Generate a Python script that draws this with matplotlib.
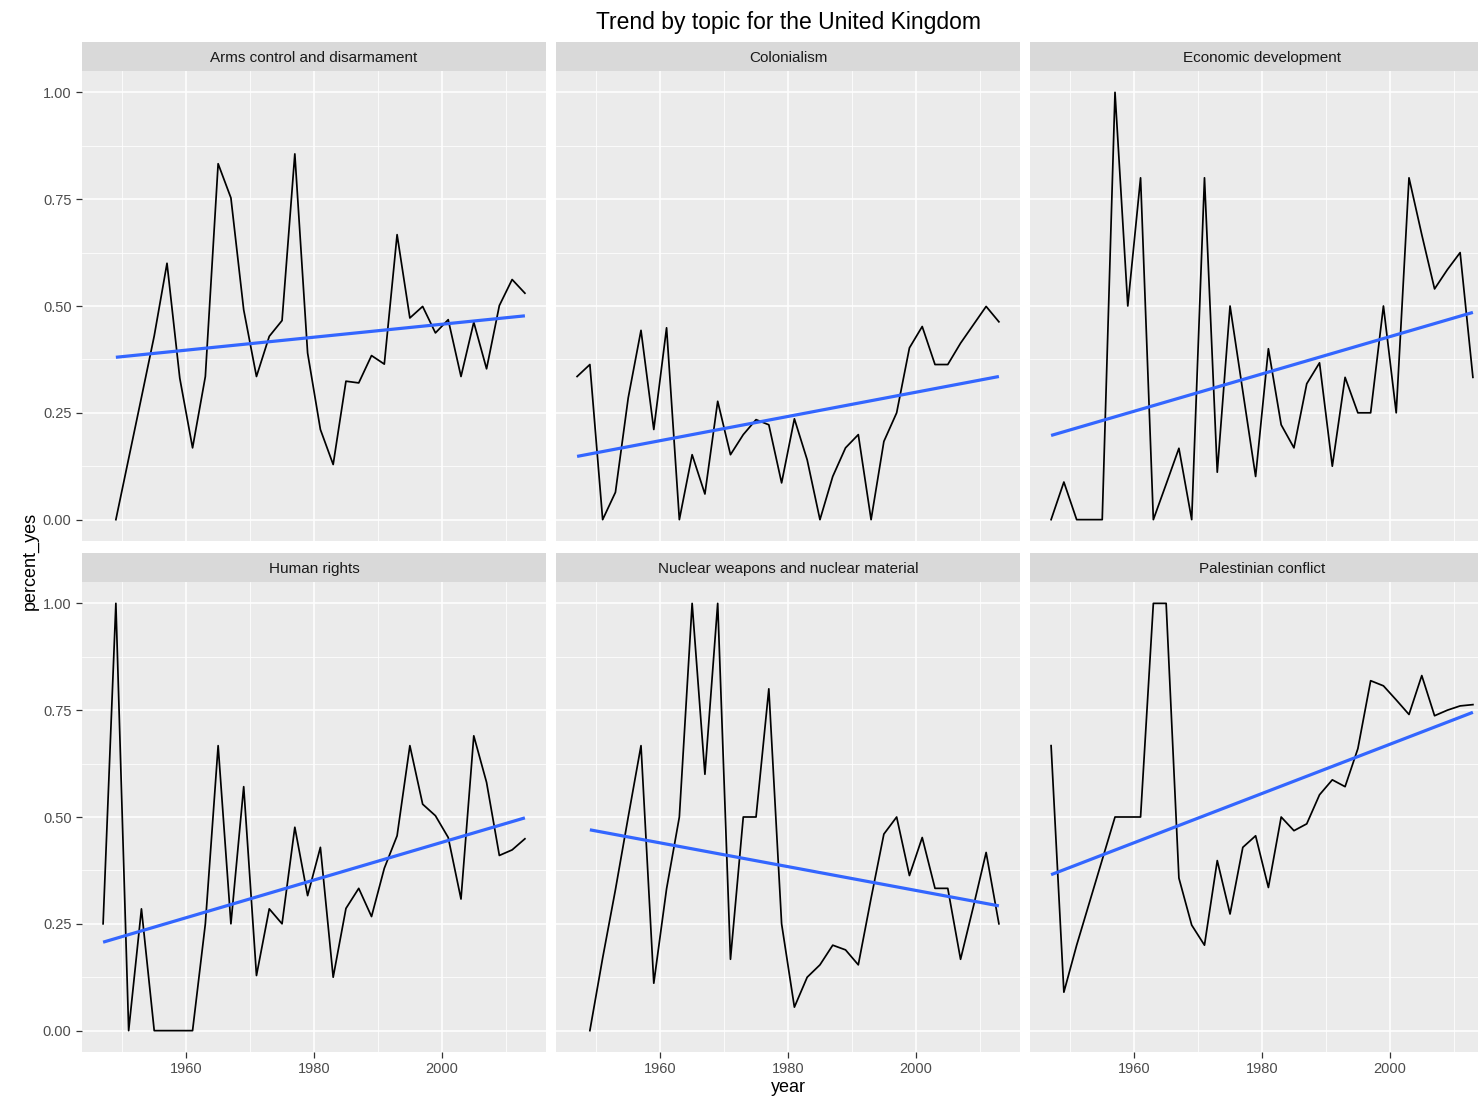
import numpy as np
import matplotlib
matplotlib.use("Agg")
import matplotlib.pyplot as plt
from matplotlib.ticker import FixedLocator

plt.rcParams['font.family'] = ['Liberation Sans', 'DejaVu Sans']

# ---------------- data ----------------
topics = ["Arms control and disarmament", "Colonialism", "Economic development",
          "Human rights", "Nuclear weapons and nuclear material", "Palestinian conflict"]

years_1947 = list(range(1947, 2014, 2))
years_1949 = list(range(1949, 2014, 2))

arms = [0.0, 0.143, 0.286, 0.43, 0.60, 0.331, 0.168, 0.335, 0.833, 0.753,
        0.491, 0.335, 0.429, 0.466, 0.856, 0.39, 0.211, 0.129, 0.324, 0.320,
        0.384, 0.364, 0.667, 0.472, 0.499, 0.437, 0.468, 0.335, 0.462, 0.353,
        0.501, 0.562, 0.530]
colonialism = [0.335, 0.363, 0.0, 0.064, 0.285, 0.443, 0.211, 0.449, 0.0, 0.152,
               0.06, 0.277, 0.152, 0.199, 0.234, 0.222, 0.086, 0.236,
               0.140, 0.0, 0.101, 0.168, 0.199, 0.0, 0.183, 0.25, 0.402, 0.452,
               0.363, 0.363, 0.413, 0.456, 0.499, 0.463]
economic = [0.0, 0.088, 0.0, 0.0, 0.0, 1.0, 0.5, 0.8, 0.0, 0.083,
            0.167, 0.0, 0.8, 0.111, 0.5, 0.30, 0.101, 0.4,
            0.222, 0.168, 0.318, 0.367, 0.125, 0.333, 0.25, 0.25, 0.5, 0.25,
            0.8, 0.667, 0.54, 0.585, 0.625, 0.333]
human_rights = [0.25, 1.0, 0.0, 0.285, 0.0, 0.0, 0.0, 0.0, 0.25, 0.667,
                0.25, 0.571, 0.129, 0.285, 0.25, 0.476, 0.316, 0.429,
                0.125, 0.286, 0.333, 0.267, 0.38, 0.456, 0.667, 0.53, 0.503, 0.452,
                0.308, 0.69, 0.581, 0.41, 0.423, 0.449]
nuclear = [0.0, 0.17, 0.33, 0.5, 0.667, 0.111, 0.332, 0.5, 1.0, 0.6,
           1.0, 0.167, 0.5, 0.5, 0.8, 0.25, 0.055,
           0.125, 0.154, 0.2, 0.189, 0.154, 0.31, 0.46, 0.5, 0.363, 0.452,
           0.333, 0.333, 0.167, 0.29, 0.417, 0.25]
palestinian = [0.667, 0.09, 0.2, 0.3, 0.4, 0.5, 0.5, 0.5, 1.0, 1.0,
               0.357, 0.247, 0.2, 0.398, 0.273, 0.429, 0.456, 0.335,
               0.5, 0.468, 0.484, 0.552, 0.587, 0.571, 0.66, 0.819, 0.807, 0.774,
               0.74, 0.831, 0.737, 0.75, 0.76, 0.763]

# linear trend: value at first and last year
trend_start = [0.380, 0.148, 0.197, 0.207, 0.470, 0.365]
trend_end = [0.477, 0.335, 0.485, 0.498, 0.292, 0.745]

series = [(years_1949, arms), (years_1947, colonialism), (years_1947, economic),
          (years_1947, human_rights), (years_1949, nuclear), (years_1947, palestinian)]

x_major = [1960, 1980, 2000]
x_minor = [1950, 1970, 1990, 2010]
y_major = [0.0, 0.25, 0.5, 0.75, 1.0]
y_minor = [0.125, 0.375, 0.625, 0.875]
y_labels = ["0.00", "0.25", "0.50", "0.75", "1.00"]

# ---------------- layout ----------------
W, H = 1478, 1100
fig = plt.figure(figsize=(W / 100, H / 100), dpi=100)
fig.patch.set_facecolor("white")

col_left = [82, 556, 1030]
panel_w = 464
row_top = [71, 582]
panel_h = 470
strip_h = 29

BG = "#EBEBEB"
STRIP = "#D9D9D9"
TXT = "#4D4D4D"

for i, (topic, (yrs, vals)) in enumerate(zip(topics, series)):
    r, c = divmod(i, 3)
    left = col_left[c] / W
    bottom = 1 - (row_top[r] + panel_h) / H
    ax = fig.add_axes([left, bottom, panel_w / W, panel_h / H])
    ax.set_facecolor(BG)
    for s in ax.spines.values():
        s.set_visible(False)
    ax.set_xlim(1943.7, 2016.3)
    ax.set_ylim(-0.05, 1.05)
    ax.xaxis.set_major_locator(FixedLocator(x_major))
    ax.xaxis.set_minor_locator(FixedLocator(x_minor))
    ax.yaxis.set_major_locator(FixedLocator(y_major))
    ax.yaxis.set_minor_locator(FixedLocator(y_minor))
    ax.grid(which="major", color="white", linewidth=1.1)
    ax.grid(which="minor", color="white", linewidth=0.55)
    ax.set_axisbelow(True)
    ax.tick_params(which="minor", length=0)
    ax.tick_params(which="major", length=4, width=0.9, color="#333333",
                   labelcolor=TXT, labelsize=10.5)
    if r == 1:
        ax.set_xticklabels([str(v) for v in x_major])
    else:
        ax.tick_params(axis="x", labelbottom=False, length=0)
    if c == 0:
        ax.set_yticklabels(y_labels)
    else:
        ax.tick_params(axis="y", labelleft=False, length=0)

    x = np.array(yrs, dtype=float)
    y = np.array(vals, dtype=float)
    ax.plot(x, y, color="black", linewidth=1.25, zorder=3)
    ax.plot([x.min(), x.max()], [trend_start[i], trend_end[i]],
            color="#3366FF", linewidth=2.3, zorder=4, solid_capstyle="butt")

    # strip
    sax = fig.add_axes([left, 1 - row_top[r] / H, panel_w / W, strip_h / H])
    sax.set_facecolor(STRIP)
    sax.set_xticks([])
    sax.set_yticks([])
    for s in sax.spines.values():
        s.set_visible(False)
    sax.text(0.5, 0.45, topic, ha="center", va="center", fontsize=11,
             color="#1A1A1A", transform=sax.transAxes)

fig.text(788 / W, 1 - 22 / H, "Trend by topic for the United Kingdom",
         ha="center", va="center", fontsize=16.5, color="black")
fig.text(788 / W, 1 - 1087 / H, "year", ha="center", va="center",
         fontsize=13, color="black")
fig.text(30 / W, 1 - 561 / H, "percent_yes", ha="center", va="center",
         rotation=90, fontsize=13, color="black")

fig.savefig("out.png", dpi=100, facecolor="white")
